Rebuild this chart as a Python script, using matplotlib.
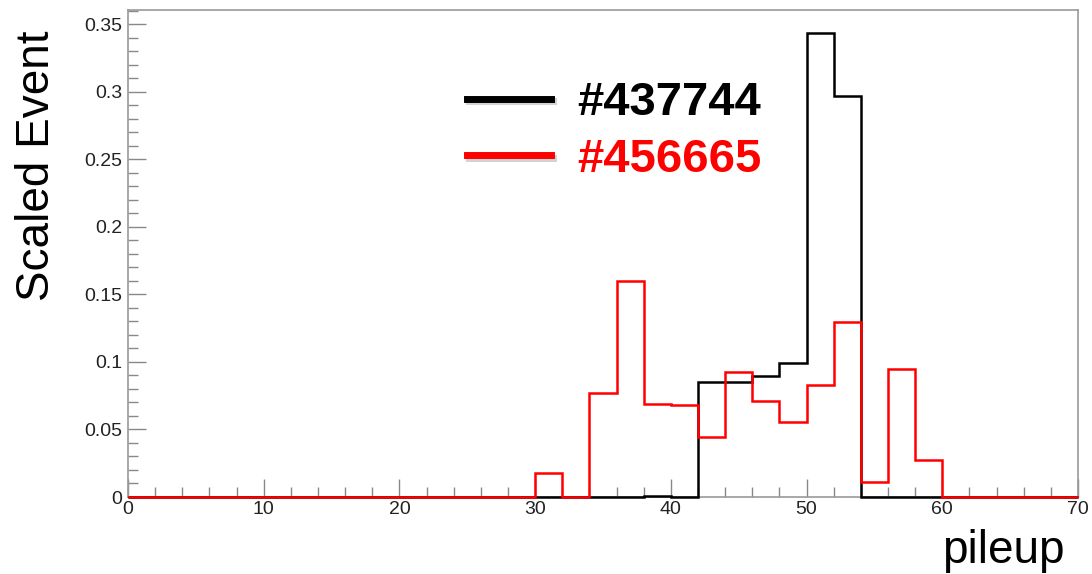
import numpy as np
import matplotlib.pyplot as plt
import matplotlib.patheffects as pe
from matplotlib.ticker import MultipleLocator

plt.rcParams['font.family'] = ['Liberation Sans', 'DejaVu Sans']

# bins of pileup, width 2 from 0 to 70
edges = np.arange(0, 72, 2)

run_a = "#437744"
run_b = "#456665"

# scaled event fractions per bin (35 bins)
vals_a = [0, 0, 0, 0, 0, 0, 0, 0, 0, 0,
          0, 0, 0, 0, 0, 0, 0, 0, 0, 0.0008,
          0, 0.0853, 0.0853, 0.0896, 0.0994, 0.3437, 0.2968, 0, 0, 0,
          0, 0, 0, 0, 0]
vals_b = [0, 0, 0, 0, 0, 0, 0, 0, 0, 0,
          0, 0, 0, 0, 0, 0.018, 0, 0.0767, 0.1599, 0.0688,
          0.0681, 0.0442, 0.0923, 0.0711, 0.0557, 0.0829, 0.1298, 0.0113, 0.0947, 0.0274,
          0, 0, 0, 0, 0]

fig = plt.figure(figsize=(10.92, 5.74), dpi=100)
ax = fig.add_axes([128 / 1092, 77 / 574, 950 / 1092, 487 / 574])

ax.stairs(vals_a, edges, color='black', lw=1.8, baseline=0, label=run_a, clip_on=False, zorder=3)
ax.stairs(vals_b, edges, color='#ff0000', lw=1.8, baseline=0, label=run_b, clip_on=False, zorder=4)

ax.set_xlim(0, 70)
ax.set_ylim(0, 0.3604)

ax.xaxis.set_major_locator(MultipleLocator(10))
ax.xaxis.set_minor_locator(MultipleLocator(2))
ax.yaxis.set_minor_locator(MultipleLocator(0.01))
ax.set_yticks([0, 0.05, 0.1, 0.15, 0.2, 0.25, 0.3, 0.35])
ax.set_yticklabels(['0', '0.05', '0.1', '0.15', '0.2', '0.25', '0.3', '0.35'])

ax.tick_params(which='both', direction='in', top=False, right=False,
               labelsize=14, colors='#888888', labelcolor='#222222', width=1)
ax.tick_params(which='major', length=13)
ax.tick_params(which='minor', length=7)
ax.tick_params(axis='x', pad=3)
ax.tick_params(axis='y', pad=4)

for sp in ax.spines.values():
    sp.set_color('#999999')
    sp.set_linewidth(1.2)

ax.set_ylabel('Scaled Event', fontsize=33, va='center')
ax.yaxis.set_label_coords(-0.096, 0.68)
ax.set_xlabel('pileup', fontsize=33, ha='right', va='top')
ax.xaxis.set_label_coords(0.986, -0.066)

leg = ax.legend(loc='center left', bbox_to_anchor=(0.357, 0.7505), frameon=False,
                prop={'size': 34, 'weight': 'bold'}, handlelength=1.77,
                handletextpad=0.57, labelspacing=0.27, borderpad=0, borderaxespad=0)
for line, text, c in zip(leg.get_lines(), leg.get_texts(), ['black', '#ff0000']):
    line.set_linewidth(5)
    line.set_color(c)
    line.set_path_effects([pe.SimpleLineShadow(offset=(1.5, -2), shadow_color='gray', alpha=0.35),
                           pe.Normal()])
    text.set_color(c)

fig.savefig('out.png', dpi=100)
